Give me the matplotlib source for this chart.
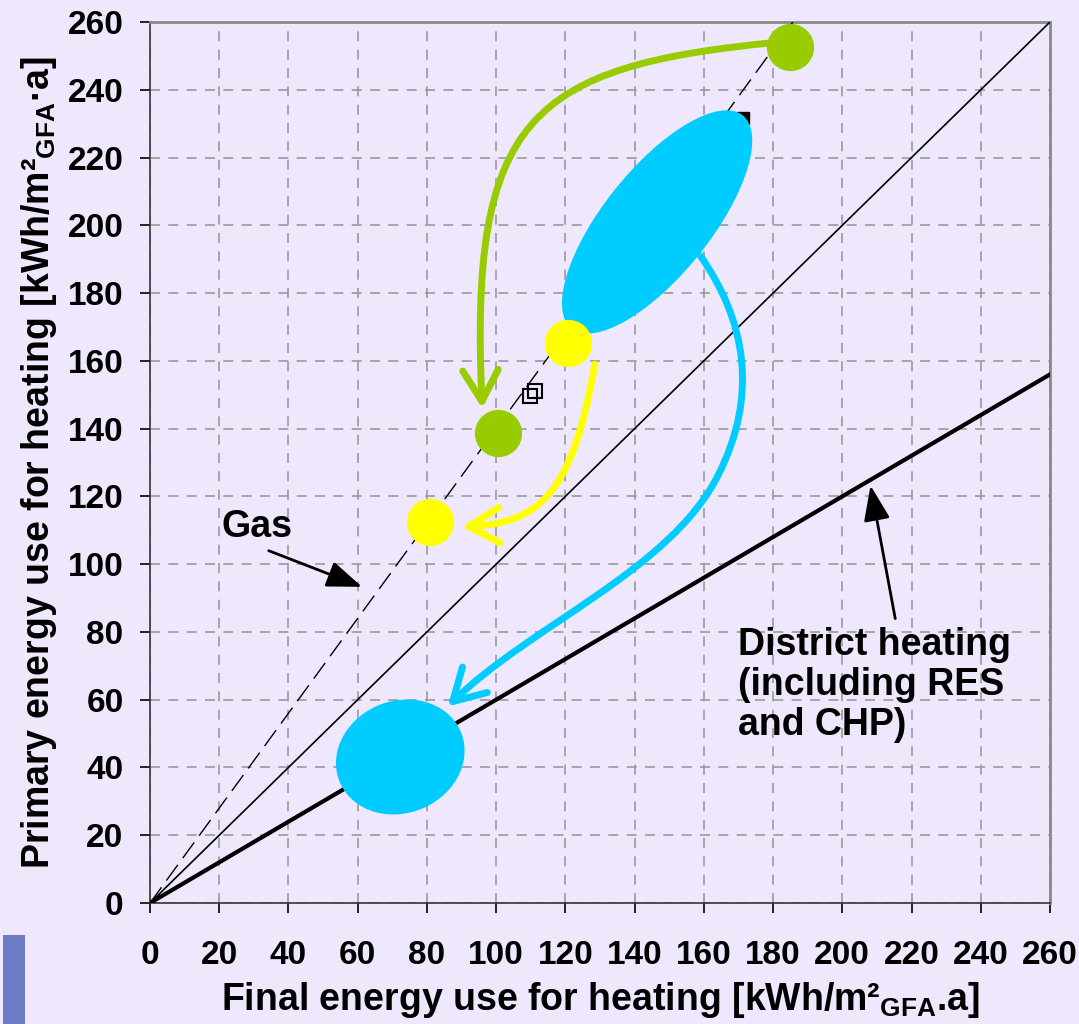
import numpy as np
import matplotlib.pyplot as plt
import matplotlib.patches as patches
from matplotlib.path import Path

plt.rcParams['font.family'] = ['Liberation Sans', 'DejaVu Sans']
plt.rcParams['font.weight'] = 'bold'
plt.rcParams['mathtext.fontset'] = 'custom'
plt.rcParams['mathtext.rm'] = 'Liberation Sans:bold'
plt.rcParams['mathtext.bf'] = 'Liberation Sans:bold'

ticks = np.arange(0, 261, 20)

# reference lines (final -> primary)
line_x = [0, 260]
equal_y = [0, 260]
dh_y = [0, 156]
gas_x = [0, 185.7]
gas_y = [0, 260]

# points
green_x = [184.9, 100.5]
green_y = [252.7, 138.7]
yellow_x = [120.8, 80.9]
yellow_y = [165.3, 112.5]
square_x = [109.8, 111.2]
square_y = [149.6, 151.1]
hidden_x = [171.3]
hidden_y = [231.7]

# ranges (ellipses): center x, center y, width, height, angle
ell_big = (146.5, 201.0, 80, 31, 52)
ell_small = (72.3, 43.1, 38, 33, 25)

# curved arrows (cubic bezier control points)
green_arrow = [(181, 254), (110, 247), (92, 232), (96, 146)]
yellow_arrow = [(128.5, 159), (122, 120), (112, 112), (90, 111)]
cyan_arrow = [(159, 191), (172, 172), (176, 150), (164, 126),
              (150, 98), (110, 82), (86, 58)]

bg = '#EFE8FC'
fig = plt.figure(figsize=(10.79, 10.24), dpi=100, facecolor=bg)
ax = fig.add_axes([150/1079, 121/1024, 900/1079, 881/1024])
ax.set_facecolor(bg)

ax.set_xlim(0, 260)
ax.set_ylim(0, 260)
ax.set_xticks(ticks)
ax.set_yticks(ticks)
ax.grid(True, color='#999999', linestyle=(0, (6, 5)), linewidth=1.2)
ax.set_axisbelow(True)
ax.tick_params(axis='both', direction='out', length=7, width=1.2, labelsize=24)
ax.tick_params(axis='x', pad=20)
ax.tick_params(axis='y', pad=12)
for s in ['top', 'right']:
    ax.spines[s].set_color('#888888')
    ax.spines[s].set_linewidth(2)
for s in ['left', 'bottom']:
    ax.spines[s].set_color('#333333')
    ax.spines[s].set_linewidth(1.2)

ax.plot(line_x, equal_y, color='black', linewidth=1.2, zorder=3)
ax.plot(line_x, dh_y, color='black', linewidth=3, zorder=3)
ax.plot(gas_x, gas_y, color='black', linewidth=1, linestyle=(0, (14, 6)), zorder=3)

ax.plot(hidden_x, hidden_y, 's', color='black', markersize=8, zorder=3)
ax.plot(square_x, square_y, 's', markerfacecolor='none', markeredgecolor='black',
        markersize=10, markeredgewidth=1.5, zorder=4)

for e in [ell_big, ell_small]:
    ax.add_patch(patches.Ellipse((e[0], e[1]), e[2], e[3], angle=e[4],
                                 facecolor='#00CCFF', edgecolor='none', zorder=5))

ax.plot(green_x, green_y, 'o', color='#99CC00', markersize=33, zorder=6)
ax.plot(yellow_x, yellow_y, 'o', color='#FFFF00', markersize=33, zorder=6)


def bezier_arrow(pts, color):
    codes = [Path.MOVETO] + [Path.CURVE4] * (len(pts) - 1)
    arr = patches.FancyArrowPatch(path=Path(pts, codes), transform=ax.transData,
                                  arrowstyle='->,head_length=0.7,head_width=0.4',
                                  mutation_scale=32, color=color, linewidth=5,
                                  zorder=7)
    ax.add_patch(arr)


bezier_arrow(green_arrow, '#99CC00')
bezier_arrow(yellow_arrow, '#FFFF00')
bezier_arrow(cyan_arrow, '#00CCFF')

ax.annotate('Gas', xy=(62, 93), xytext=(31, 111), fontsize=27, fontweight='bold',
            ha='center', va='center', zorder=8,
            arrowprops=dict(arrowstyle='-|>,head_length=0.8,head_width=0.3',
                            color='black', linewidth=2, relpos=(0.45, 0.0),
                            shrinkA=6))
ax.annotate('District heating\n(including RES\nand CHP)', xy=(208, 124),
            xytext=(170, 81.5), fontsize=27, fontweight='bold', ha='left', va='top',
            linespacing=1.15, zorder=8,
            arrowprops=dict(arrowstyle='-|>,head_length=0.8,head_width=0.3',
                            color='black', linewidth=2, relpos=(0.58, 1.0),
                            shrinkA=4))

ax.set_xlabel(r'Final energy use for heating [kWh/m²$_\mathbf{GFA}$.a]',
              fontsize=27, fontweight='bold', labelpad=6)
ax.set_ylabel(r'Primary energy use for heating [kWh/m²$_\mathbf{GFA}$·a]',
              fontsize=27, fontweight='bold', labelpad=6)

# slide decoration at bottom left
fig.patches.append(patches.Rectangle((3/1079, 0), 22/1079, 89/1024,
                                     transform=fig.transFigure,
                                     facecolor='#6A7BC8', edgecolor='none'))

fig.savefig('out.png', dpi=100, facecolor=bg)
